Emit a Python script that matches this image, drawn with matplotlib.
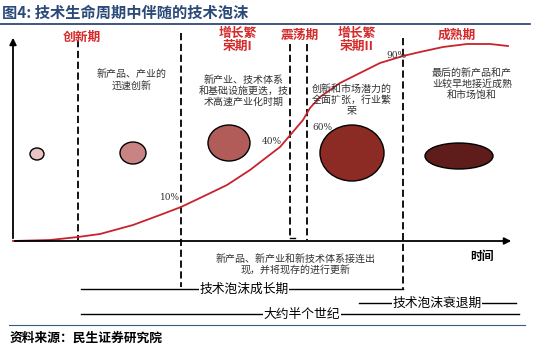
import matplotlib.pyplot as plt
from matplotlib.patches import Ellipse

plt.rcParams['font.family'] = ['Noto Sans CJK SC', 'DejaVu Sans']

# 画布坐标 (像素, y 向下)
curve_t = [13, 50, 78, 100, 133, 160, 181, 200, 227, 250, 263, 280, 292, 303,
           310, 320, 340, 360, 380, 403, 420, 443, 467, 490, 508]
curve_v = [241, 240, 237, 234, 225, 215, 207, 198, 185, 170, 160, 147, 133, 120,
           108, 97, 83, 73, 63, 56, 52, 47, 44, 44, 46]

pct_labels = ["10%", "40%", "60%", "90%"]
pct_x = [170, 272, 322, 396]
pct_y = [198, 142, 128, 55]

phase_x = [78, 181, 290, 307, 403]
phase_top = [40, 33, 44, 44, 38]
phase_bottom = [240, 287, 238, 240, 290]

phase_names = ["创新期", "增长繁\n荣期I", "震荡期", "增长繁\n荣期II", "成熟期"]
phase_name_x = [82, 238, 300, 357, 457]
phase_name_y = [37, 40, 35, 40, 35]

desc_texts = ["新产品、产业的\n迅速创新",
              "新产业、技术体系\n和基础设施更迭，技\n术高速产业化时期",
              "创新和市场潜力的\n全面扩张，行业繁\n荣",
              "最后的新产品和产\n业较早地接近成熟\n和市场饱和"]
desc_x = [132, 244, 352, 472]
desc_y = [80, 91, 100, 84]

bubble_x = [37, 133, 229, 352, 459]
bubble_y = [154, 153, 143, 153, 156]
bubble_w = [14, 26, 42, 64, 68]
bubble_h = [12, 22, 36, 56, 26]
bubble_colors = ["#e8c4c4", "#c98383", "#b15c58", "#8c2b24", "#5e1d1b"]

fig = plt.figure(figsize=(5.5, 3.45), dpi=100)
ax = fig.add_axes([0, 0, 1, 1])
ax.set_xlim(0, 550)
ax.set_ylim(345, 0)
ax.axis("off")

# 标题
ax.text(2, 13, "图4: 技术生命周期中伴随的技术泡沫", fontsize=11, color="#2b4a78",
        fontweight="bold", va="center", ha="left")
ax.plot([0, 530], [24, 24], color="#1f3a66", lw=1.2)

# 坐标轴
ax.annotate("", xy=(13, 35), xytext=(13, 241),
            arrowprops=dict(arrowstyle="-|>", color="black", lw=1.3, mutation_scale=10))
ax.annotate("", xy=(514, 241), xytext=(12, 241),
            arrowprops=dict(arrowstyle="-|>", color="black", lw=1.3, mutation_scale=10))
ax.text(482, 256, "时间", fontsize=8.5, fontweight="bold", ha="center", va="center")

# 阶段分隔线
for x, t, b in zip(phase_x, phase_top, phase_bottom):
    ax.plot([x, x], [t, b], color="black", lw=1.3, linestyle=(0, (4, 2)))
ax.plot([290, 295], [238, 238], color="black", lw=1)

for name, x, y in zip(phase_names, phase_name_x, phase_name_y):
    ax.text(x, y, name, fontsize=9.2, color="#d42a2a", fontweight="bold",
            ha="center", va="center", linespacing=1.0)

for txt, x, y in zip(desc_texts, desc_x, desc_y):
    ax.text(x, y, txt, fontsize=7.2, color="#333333", ha="center", va="center",
            linespacing=1.15)

# 泡沫
for x, y, w, h, c in zip(bubble_x, bubble_y, bubble_w, bubble_h, bubble_colors):
    ax.add_patch(Ellipse((x, y), w, h, facecolor=c, edgecolor="black", lw=1.0))

# 生命周期曲线
ax.plot(curve_t, curve_v, color="#c8232c", lw=1.3, solid_joinstyle="round")
for lab, x, y in zip(pct_labels, pct_x, pct_y):
    ax.text(x, y, lab, fontsize=6.5, family="DejaVu Serif", ha="center", va="center",
            color="#333333")

# 底部说明
ax.text(296, 265, "新产品、新产业和新技术体系接连出\n现，并将现存的进行更新", fontsize=7.2,
        color="#333333", ha="center", va="center", linespacing=1.2)

spans = [("技术泡沫成长期", 81, 403, 289, 244),
         ("技术泡沫衰退期", 359, 516, 303, 437),
         ("大约半个世纪", 81, 519, 314, 302)]
for lab, x0, x1, y, xc in spans:
    ax.plot([x0, x1], [y, y], color="black", lw=1.0)
    ax.text(xc, y, lab, fontsize=9.2, ha="center", va="center",
            bbox=dict(facecolor="white", edgecolor="none", pad=0.5))

ax.plot([9, 525], [325, 325], color="#3a5a80", lw=0.8)
ax.text(10, 338, "资料来源：民生证券研究院", fontsize=9.2, fontweight="bold",
        ha="left", va="center")

fig.savefig("out.png", dpi=100)
